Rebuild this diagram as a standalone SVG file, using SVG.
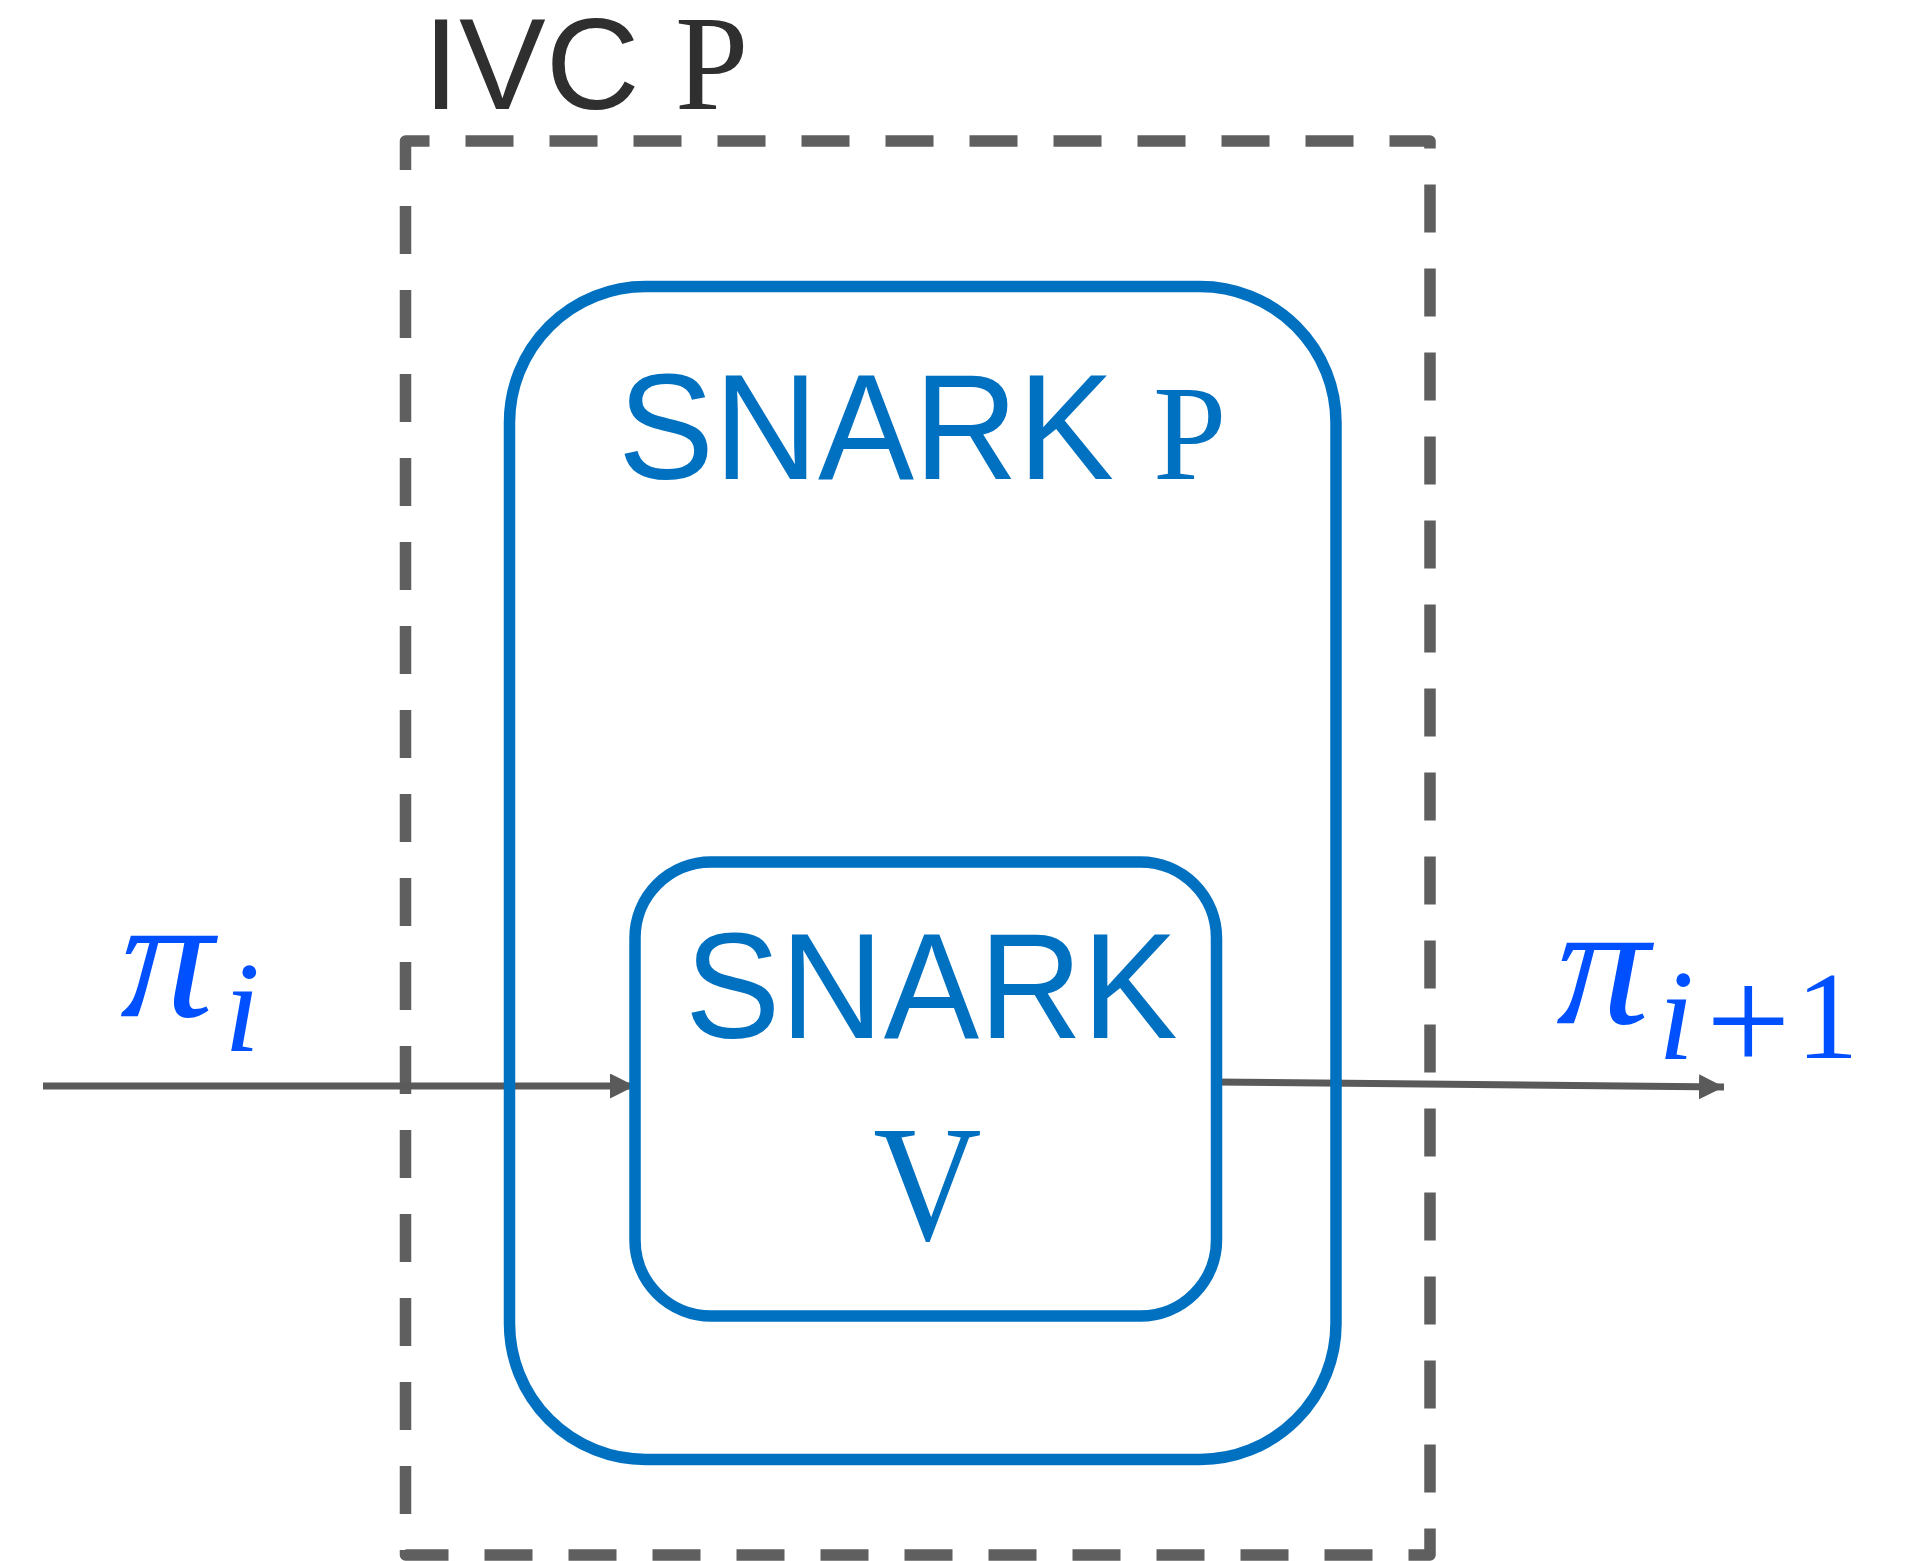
<svg xmlns="http://www.w3.org/2000/svg" width="1920" height="1561" viewBox="0 0 1920 1561">
  <style>
    .box { fill: none; stroke: #0070c0; stroke-width: 11.5; }
    .sans { font-family: "Liberation Sans", Arial, sans-serif; }
    .serif { font-family: "Liberation Serif", "Times New Roman", serif; }
    .blue { fill: #0070c0; }
    .math { fill: #0050ff; font-family: "Liberation Serif", "DejaVu Serif", serif; }
    .conn { fill: none; stroke: #5a5a5a; stroke-width: 7; }
  </style>
  <defs>
    <marker id="arrow" markerUnits="userSpaceOnUse" markerWidth="25" markerHeight="26" refX="25" refY="12.5" orient="auto">
      <path d="M0,0 L25,12.5 L0,25 Z" fill="#5a5a5a"/>
    </marker>
  </defs>
  <rect width="1920" height="1561" fill="#ffffff"/>

  <g id="ivc">
    <path d="M405.5,165 V141 H1430 V1555 H405.5 Z" fill="none" stroke="#5f5f5f" stroke-width="11.5" stroke-dasharray="48 36" stroke-linejoin="round"/>
    <text class="sans" x="423" y="109" font-size="130" fill="#2f2f2f">IVC</text>
    <text class="serif" transform="translate(675,109) scale(1,1.03)" font-size="132" fill="#2f2f2f">P</text>
  </g>

  <g id="connectors">
    <line class="conn" x1="43" y1="1086" x2="635" y2="1086" marker-end="url(#arrow)"/>
    <line class="conn" x1="1214" y1="1082" x2="1724" y2="1087" marker-end="url(#arrow)"/>
  </g>

  <g id="snark-p">
    <rect class="box" x="509.5" y="286.5" width="826.5" height="1173" rx="136" ry="136"/>
    <text class="sans blue" transform="translate(618,479) scale(1,1.04)" font-size="144">SNARK</text>
    <text class="serif blue" transform="translate(1153,479) scale(1,1.03)" font-size="132">P</text>
  </g>

  <g id="snark-v">
    <rect class="box" x="635" y="862" width="581.5" height="454" rx="76" ry="76"/>
    <text class="sans blue" transform="translate(685,1038) scale(1,1.05)" font-size="143">SNARK</text>
    <text class="serif blue" transform="translate(927.5,1240) scale(1,1.1)" font-size="150" text-anchor="middle">V</text>
  </g>

  <g id="label-pi-i">
    <text class="math" font-style="italic" transform="translate(120,1016) scale(1.07,1)" font-size="175">π</text>
    <text class="math" font-style="italic" x="224" y="1051" font-size="130">i</text>
  </g>

  <g id="label-pi-i1">
    <text class="math" font-style="italic" transform="translate(1556,1023) scale(1.07,1)" font-size="175">π</text>
    <text class="math" font-style="italic" x="1658" y="1059" font-size="130">i</text>
    <text class="math" x="1706" y="1071" font-size="150">+</text>
    <text class="math" x="1796" y="1058" font-size="125">1</text>
  </g>
</svg>
